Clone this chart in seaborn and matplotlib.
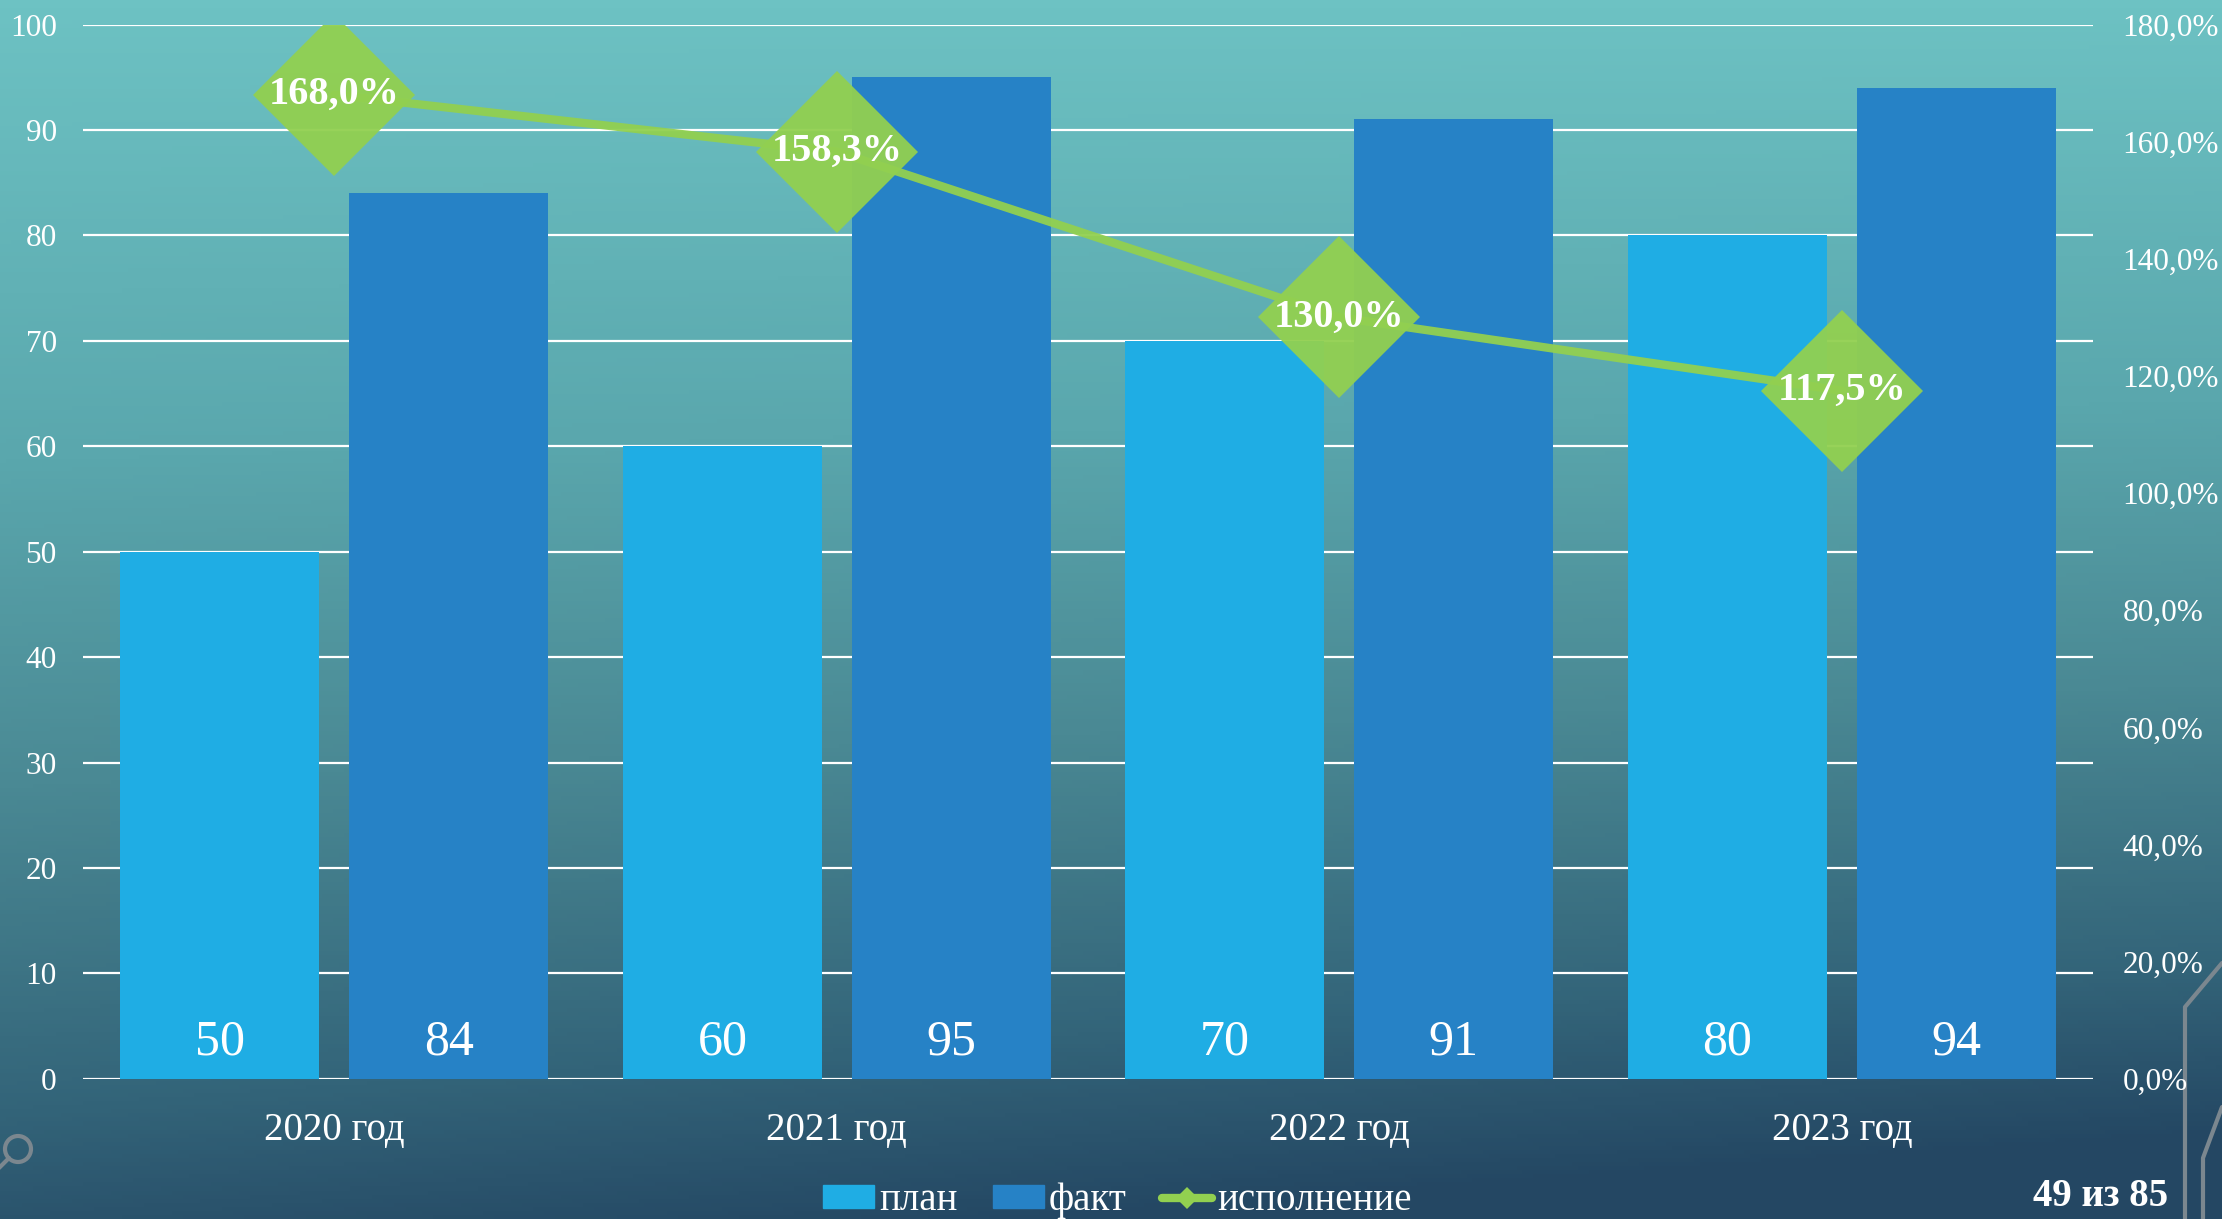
import numpy as np
import pandas as pd
import matplotlib.pyplot as plt
import matplotlib.colors as mcolors
from matplotlib.patches import Patch, Circle
from matplotlib.lines import Line2D
from matplotlib.ticker import FuncFormatter
import seaborn as sns

# data
years = ['2020 год', '2021 год', '2022 год', '2023 год']
plan = [50, 60, 70, 80]
fact = [84, 95, 91, 94]
done = [168.0, 158.3, 130.0, 117.5]
series_names = ['план', 'факт', 'исполнение']
page_label = '49 из 85'

c_plan = '#1FADE4'
c_fact = '#2682C6'
c_done = '#92D050'

sns.set_style('white')
plt.rcParams['font.family'] = ['Liberation Serif', 'DejaVu Serif']

fig = plt.figure(figsize=(22.22, 12.19), dpi=100)

# slide background: teal on top going to dark navy at the bottom
bg = fig.add_axes([0, 0, 1, 1], zorder=-10)
stops = [(0.0, '#6DC2C3'), (0.35, '#5AA7AD'), (0.6, '#4A8994'),
         (0.85, '#336479'), (1.0, '#244763')]
cmap = mcolors.LinearSegmentedColormap.from_list('bg', stops)
t = np.linspace(0, 1, 300)[:, None]
s = np.linspace(0, 1, 400)[None, :]
tt = np.clip(t + 0.14 * (s - 0.5) * t, 0, 1)
bg.imshow(cmap(tt), aspect='auto', extent=[0, 2222, 1219, 0])
bg.set_xlim(0, 2222)
bg.set_ylim(1219, 0)
bg.axis('off')
# bits of the slide decoration
deco = '#7B878F'
bg.plot([2222, 2185, 2185], [963, 1007, 1219], color=deco, lw=3)
bg.plot([2222, 2203, 2203], [1107, 1158, 1219], color=deco, lw=3)
bg.add_patch(Circle((18, 1149), 13, fill=False, ec=deco, lw=3))
bg.plot([9, -5], [1158, 1172], color=deco, lw=3)

ax = fig.add_axes([0.0374, 0.1149, 0.9046, 0.865])
ax.set_facecolor('none')

df = pd.DataFrame({'year': years * 2,
                   'value': plan + fact,
                   'series': [series_names[0]] * len(years) + [series_names[1]] * len(years)})
sns.barplot(data=df, x='year', y='value', hue='series', palette=[c_plan, c_fact],
            width=0.911, gap=0.13, saturation=1, errorbar=None, legend=False,
            linewidth=0, ax=ax, zorder=2)

ax.set_ylim(0, 100)
ax.set_yticks(range(0, 101, 10))
ax.set_axisbelow(True)
ax.grid(axis='y', color='white', lw=1.6)
ax.grid(axis='x', visible=False)
for sp in ax.spines.values():
    sp.set_visible(False)
ax.tick_params(axis='y', length=0, pad=19, colors='white', labelsize=22.5)
ax.tick_params(axis='x', length=0, pad=24, colors='white', labelsize=28)
ax.set_xlabel('')
ax.set_ylabel('')

for bar in ax.patches:
    ax.text(bar.get_x() + bar.get_width() / 2, 3.5, f'{bar.get_height():.0f}',
            ha='center', va='center', fontsize=36, color='white', zorder=3)

ax2 = ax.twinx()
sns.pointplot(x=years, y=done, ax=ax2, color=c_done, markers='D', markersize=82,
              linewidth=6, markeredgewidth=0, alpha=0.95, errorbar=None)
ax2.set_ylim(0, 180)
ax2.set_yticks(range(0, 181, 20))
ax2.yaxis.set_major_formatter(FuncFormatter(lambda v, p: f'{v:.1f}%'.replace('.', ',')))
ax2.tick_params(axis='y', length=0, pad=21, colors='white', labelsize=22.5)
ax2.grid(False)
for sp in ax2.spines.values():
    sp.set_visible(False)
ax2.set_ylabel('')
ax2.set_xlabel('')

for i, v in enumerate(done):
    ax2.text(i, v, f'{v:.1f}%'.replace('.', ','), ha='center', va='center',
             fontsize=29, fontweight='bold', color='white', zorder=5)

handles = [Patch(color=c_plan), Patch(color=c_fact),
           Line2D([], [], color=c_done, lw=6, marker='D', ms=11, mew=0)]
fig.legend(handles=handles, labels=series_names, loc='center', bbox_to_anchor=(0.503, 0.015),
           ncol=3, frameon=False, fontsize=28, handlelength=1.31, handleheight=0.52,
           handletextpad=0.13, columnspacing=0.9, labelcolor='white')

fig.text(0.9455, 0.011, page_label, ha='center', va='baseline', fontsize=28,
         fontweight='bold', color='white')

fig.savefig('out.png', dpi=100)
